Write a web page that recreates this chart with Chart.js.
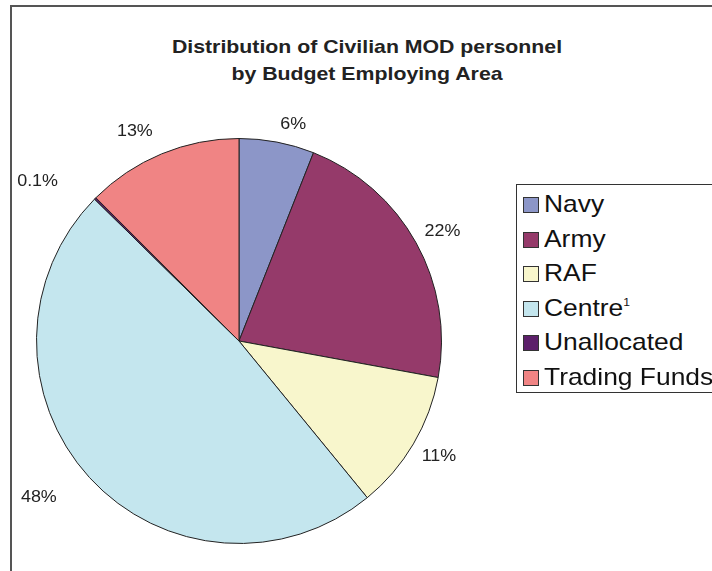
<!DOCTYPE html>
<html>
<head>
<meta charset="utf-8">
<script src="https://cdn.jsdelivr.net/npm/chart.js@4.4.0/dist/chart.umd.min.js"></script>
<style>
  html, body { margin: 0; padding: 0; background: #fff; overflow: hidden; width: 712px; height: 571px; }
  #frame { position: absolute; left: 10px; top: 5px; width: 800px; height: 700px; border: 2px solid #555; box-sizing: border-box; }
  #title { position: absolute; left: 0; width: 734px; top: 33px; text-align: center; font: bold 19px "Liberation Sans", Arial, sans-serif; line-height: 27px; color: #222; transform: scaleX(1.12); transform-origin: 367px 0; }
  #chart { position: absolute; left: 0; top: 0; }
  #legend { position: absolute; left: 516px; top: 184px; width: 260px; height: 209px; border: 1px solid #333; box-sizing: border-box; background: #fff;
            font: 24px "Liberation Sans", Arial, sans-serif; color: #111; padding-top: 2px; }
  .item { height: 34.6px; line-height: 34.6px; white-space: nowrap; }
  .sw { display: inline-block; width: 16px; height: 16px; border: 1px solid #333; box-sizing: border-box; margin: 0 5px 0 6px; vertical-align: -1px; }
  .txt { display: inline-block; transform: scaleX(1.1); transform-origin: 0 50%; }
  sup { font-size: 11px; vertical-align: 10px; line-height: 0; color: #111; }
</style>
</head>
<body>
<div id="frame"></div>
<div id="title">Distribution of Civilian MOD personnel<br>by Budget Employing Area</div>
<canvas id="chart" width="712" height="571"></canvas>
<div id="legend"></div>
<script>
const categories = ['Navy', 'Army', 'RAF', 'Centre', 'Unallocated', 'Trading Funds'];
const footnotes = ['', '', '', '1', '', ''];
const shares = [6.0, 21.9, 11.2, 48.3, 0.15, 12.5];
const shareLabels = ['6%', '22%', '11%', '48%', '0.1%', '13%'];
const colors = ['#8c96c8', '#953a6a', '#f8f6cc', '#c4e6ee', '#5c1f6a', '#f08484'];

// small nudges so labels sit where Excel put them
const labelNudge = [[12, 0], [2, -3], [2, 4], [-30, 8], [-36, -5], [-16, -6]];

const outsideLabels = {
    id: 'outsideLabels',
    afterDatasetsDraw(chart) {
        const ctx = chart.ctx;
        const arcs = chart.getDatasetMeta(0).data;
        const stretch = 1.12;
        ctx.save();
        ctx.font = '16px "Liberation Sans", Arial, sans-serif';
        ctx.fillStyle = '#222';
        ctx.textAlign = 'center';
        ctx.textBaseline = 'middle';
        arcs.forEach((arc, i) => {
            const mid = (arc.startAngle + arc.endAngle) / 2;
            const cos = Math.cos(mid), sin = Math.sin(mid);
            const w = ctx.measureText(shareLabels[i]).width * stretch;
            const h = 15;
            const r = arc.outerRadius + 10;
            const x = arc.x + r * cos + cos * w / 2 + labelNudge[i][0];
            const y = arc.y + r * sin + sin * h / 2 + labelNudge[i][1];
            ctx.save();
            ctx.translate(x, y);
            ctx.scale(stretch, 1);
            ctx.fillText(shareLabels[i], 0, 0);
            ctx.restore();
        });
        ctx.restore();
    }
};

new Chart(document.getElementById('chart').getContext('2d'), {
    type: 'pie',
    data: {
        labels: categories,
        datasets: [{
            data: shares,
            backgroundColor: colors,
            borderColor: '#222',
            borderWidth: 1
        }]
    },
    options: {
        responsive: false,
        animation: false,
        layout: { padding: { left: 36, right: 270, top: 138, bottom: 27 } },
        plugins: {
            legend: { display: false },
            title: { display: false },
            tooltip: { enabled: false }
        }
    },
    plugins: [outsideLabels]
});

const legend = document.getElementById('legend');
categories.forEach((c, i) => {
    const row = document.createElement('div');
    row.className = 'item';
    row.innerHTML = '<span class="sw" style="background:' + colors[i] + '"></span><span class="txt">' + c +
        (footnotes[i] ? '<sup>' + footnotes[i] + '</sup>' : '') + '</span>';
    legend.appendChild(row);
});
</script>
</body>
</html>
